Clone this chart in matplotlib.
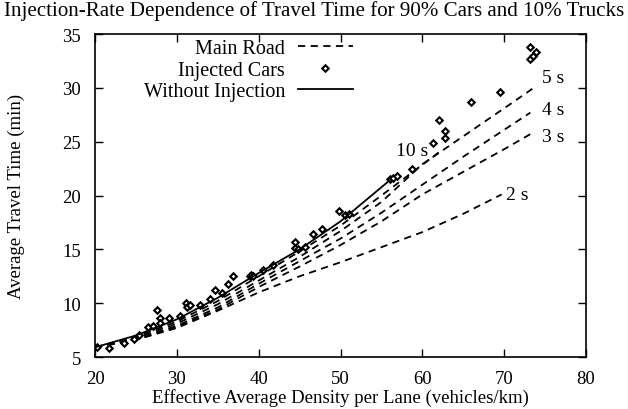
import matplotlib
matplotlib.use("Agg")
import matplotlib.pyplot as plt

plt.rcParams['font.family'] = ['Liberation Serif', 'DejaVu Serif']
plt.rcParams['font.size'] = 13.5

# "Without Injection" (solid)
x_noinj = [20, 25, 30, 35, 40, 45, 50, 56]
y_noinj = [5.9, 7.0, 8.5, 10.5, 12.8, 15.0, 17.6, 21.4]

# main road curves for different injection intervals (dashed)
x_10s = [20, 25, 30, 35, 40, 45, 50, 55, 62]
y_10s = [5.9, 6.9, 8.3, 10.2, 12.5, 14.8, 17.2, 20.0, 24.0]
x_5s = [20, 25, 30, 35, 40, 45, 50, 55, 60, 65, 70, 74]
y_5s = [5.9, 6.8, 8.1, 9.9, 12.1, 14.3, 16.7, 19.4, 22.9, 25.5, 28.1, 30.2]
x_4s = [20, 25, 30, 35, 40, 45, 50, 55, 60, 65, 70, 73.2]
y_4s = [5.9, 6.7, 7.9, 9.6, 11.8, 13.9, 16.0, 18.4, 21.0, 23.6, 26.1, 27.7]
x_3s = [20, 25, 30, 35, 40, 45, 50, 55, 60, 65, 70, 73.2]
y_3s = [5.9, 6.6, 7.8, 9.4, 11.5, 13.4, 15.4, 17.6, 20.1, 22.2, 24.3, 25.7]
x_2s = [20, 25, 30, 35, 40, 45, 50, 55, 60, 65, 69.7]
y_2s = [5.9, 6.6, 7.7, 9.3, 11.0, 12.5, 13.8, 15.2, 16.6, 18.3, 20.1]

# injected cars (diamonds)
x_inj = [20.2, 21.7, 23.6, 24.8, 25.4, 26.5, 27.1, 27.6, 27.9, 28.0, 29.0, 30.4,
         31.1, 31.2, 31.6, 32.8, 34.1, 34.7, 35.5, 36.3, 36.9, 38.9, 39.1, 39.3,
         40.5, 41.8, 44.4, 44.5, 44.8, 45.7, 46.7, 47.8, 49.8, 50.6, 51.0,
         56.1, 56.4, 56.9, 58.7, 61.3, 62.0, 62.8, 62.8, 66.0, 69.5,
         73.1, 73.2, 73.5, 73.9]
y_inj = [5.9, 5.8, 6.3, 6.7, 7.0, 7.8, 7.9, 9.4, 8.6, 8.2, 8.6, 8.8,
         10.0, 9.6, 9.8, 9.8, 10.4, 11.2, 10.9, 11.8, 12.5, 12.5, 12.6, 12.5,
         13.1, 13.5, 15.7, 15.1, 15.0, 15.2, 16.4, 16.9, 18.6, 18.2, 18.3,
         21.5, 21.6, 21.8, 22.5, 24.9, 27.0, 26.0, 25.3, 28.7, 29.6,
         33.8, 32.7, 33.0, 33.3]

curve_labels = ["10 s", "5 s", "4 s", "3 s", "2 s"]
label_x = [56.8, 74.6, 74.6, 74.6, 70.2]
label_y = [24.2, 31.0, 28.0, 25.5, 20.1]

fig = plt.figure(figsize=(6.28, 4.10), dpi=100)
ax = fig.add_axes([0.1513, 0.1268, 0.7818, 0.7878])

dash = dict(color='black', lw=1.3, dashes=(4, 3))
ax.plot(x_10s, y_10s, label='Main Road', **dash)
ax.plot(x_5s, y_5s, **dash)
ax.plot(x_4s, y_4s, **dash)
ax.plot(x_3s, y_3s, **dash)
ax.plot(x_2s, y_2s, **dash)
ax.plot(x_inj, y_inj, ls='none', marker='D', ms=3.3, mfc='white', mec='black',
        mew=1.5, label='Injected Cars')
ax.plot(x_noinj, y_noinj, color='black', lw=1.3, label='Without Injection')

for t, lx, ly in zip(curve_labels, label_x, label_y):
    ax.text(lx, ly, t, ha='left', va='center', fontsize=14)

ax.set_xlim(20, 80)
ax.set_ylim(5, 35)
ax.set_xticks([20, 30, 40, 50, 60, 70, 80])
ax.set_yticks([5, 10, 15, 20, 25, 30, 35])
ax.tick_params(direction='in', length=6, width=1, top=True, right=True)
ax.tick_params(axis='x', pad=9)
ax.tick_params(axis='y', pad=10)
for s in ax.spines.values():
    s.set_linewidth(1.2)

fig.text(0.5, 0.998, 'Injection-Rate Dependence of Travel Time for 90% Cars and 10% Trucks',
         ha='center', va='top', fontsize=15.1)
ax.set_xlabel('Effective Average Density per Lane (vehicles/km)', labelpad=1)
ax.set_ylabel('Average Travel Time (min)', labelpad=27)

leg = ax.legend(loc='upper right', bbox_to_anchor=(0.533, 0.997), frameon=False,
                markerfirst=False, handlelength=2.7, handletextpad=0.65,
                labelspacing=0.12, borderaxespad=0, borderpad=0.2,
                fontsize=14.5)

fig.savefig('out.png', dpi=100)
